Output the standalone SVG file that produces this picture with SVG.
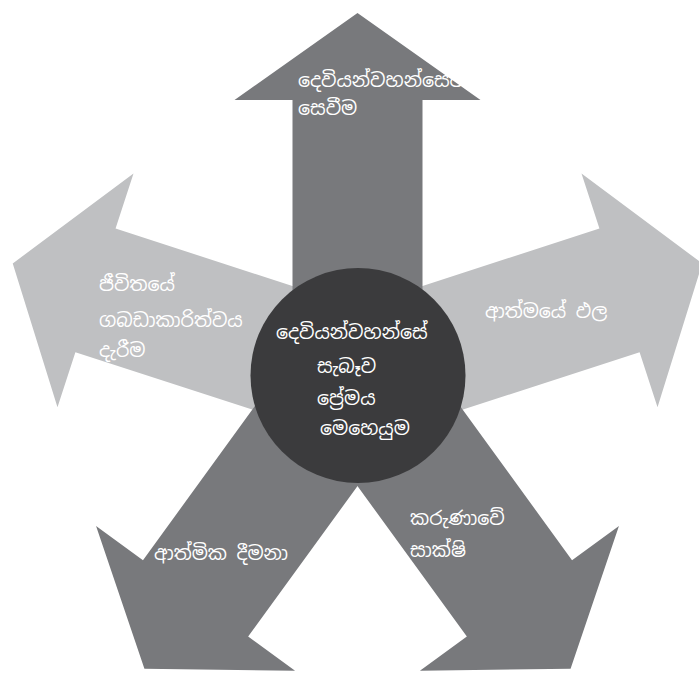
<svg xmlns="http://www.w3.org/2000/svg" width="699" height="675" viewBox="0 0 699 675">
<defs>
<style>
.dark{fill:#78797c}
.light{fill:#bfc0c2}
.hub{fill:#3b3b3d}
.lbl{fill:#ffffff;font-family:"Noto Sans Sinhala","Iskoola Pota","Noto Sans","DejaVu Sans",sans-serif;font-size:19px}
</style>
<polygon id="arrowShape" points="-65,0 -65,-275.5 -123,-275.5 0,-362.5 123,-275.5 65,-275.5 65,0"/>
</defs>
<rect width="699" height="675" fill="#ffffff"/>
<g id="node-right">
<use href="#arrowShape" class="light" transform="translate(357.5,375.5) rotate(72)"/>
<text class="lbl" x="485" y="318">ආත්මයේ ඵල</text>
</g>
<g id="node-left">
<use href="#arrowShape" class="light" transform="translate(357.5,375.5) rotate(288)"/>
<text class="lbl" x="99" y="291">ජීවිතයේ</text>
<text class="lbl" x="99" y="327">ගබඩාකාරිත්වය</text>
<text class="lbl" x="99" y="357">දැරීම</text>
</g>
<g id="node-bottom-right">
<use href="#arrowShape" class="dark" transform="translate(357.5,375.5) rotate(144)"/>
<text class="lbl" x="410" y="525">කරුණාවේ</text>
<text class="lbl" x="410" y="557">සාක්ෂි</text>
</g>
<g id="node-bottom-left">
<use href="#arrowShape" class="dark" transform="translate(357.5,375.5) rotate(216)"/>
<text class="lbl" x="154" y="560">ආත්මික දීමනා</text>
</g>
<g id="node-top">
<use href="#arrowShape" class="dark" transform="translate(357.5,375.5)"/>
<text class="lbl" x="298" y="87">දෙවියන්වහන්සේව</text>
<text class="lbl" x="298" y="115">සෙවීම</text>
</g>
<g id="node-center">
<circle class="hub" cx="358" cy="375.5" r="107.5"/>
<text class="lbl" x="276" y="339">දෙවියන්වහන්සේ</text>
<text class="lbl" x="317" y="373">සැබෑව</text>
<text class="lbl" x="317" y="405">ප්‍රේමය</text>
<text class="lbl" x="320" y="435">මෙහෙයුම</text>
</g>
</svg>
